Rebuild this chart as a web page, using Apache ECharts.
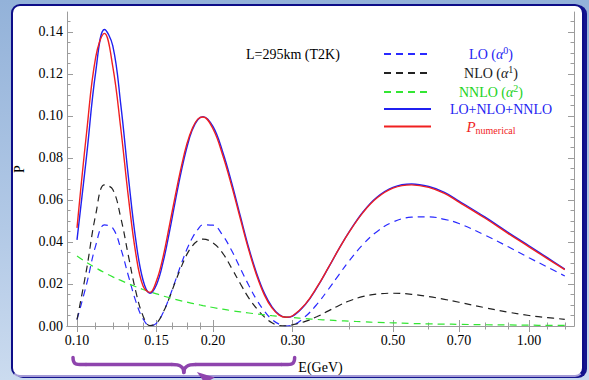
<!DOCTYPE html>
<html>
<head>
<meta charset="utf-8">
<title>P vs E (T2K)</title>
<script src="https://cdn.jsdelivr.net/npm/echarts@6/dist/echarts.min.js"></script>
<style>
html, body { margin: 0; padding: 0; }
body {
  width: 589px; height: 380px; overflow: hidden; position: relative;
  background: linear-gradient(180deg, #93b2d9 0%, #b2c9e6 60%, #cbdbef 100%);
}
.panel {
  position: absolute; left: 11px; top: 4px; width: 569px; height: 369px;
  background: #fff; border: 2.5px solid #0d0d88; border-bottom: 2px solid #a49ad6;
  border-radius: 9px; box-shadow: 3px 1px 0 #14148e;
}
#chart { position: absolute; left: 0; top: 0; width: 589px; height: 380px; }
</style>
</head>
<body>
<div class="panel"></div>
<div id="chart"></div>
<script>
const energy = [0.100, 0.105, 0.110, 0.115, 0.120, 0.125, 0.130, 0.135, 0.140, 0.145,
  0.150, 0.155, 0.160, 0.165, 0.170, 0.175, 0.180, 0.185, 0.190, 0.200,
  0.21, 0.22, 0.23, 0.24, 0.25, 0.26, 0.27, 0.28, 0.29, 0.30,
  0.32, 0.34, 0.36, 0.38, 0.40, 0.43, 0.46, 0.50, 0.55, 0.60,
  0.65, 0.70, 0.80, 0.90, 1.00, 1.10, 1.20];

const pLO = [0.0031, 0.0199, 0.0383, 0.0481, 0.0466, 0.0368, 0.0237, 0.0116, 0.0034, 0.0001,
  0.0014, 0.0063, 0.0135, 0.0215, 0.0294, 0.0365, 0.0420, 0.0459, 0.0482, 0.0480,
  0.0432, 0.0358, 0.0273, 0.0193, 0.0123, 0.0070, 0.0031, 0.0009, 0.0000, 0.0004,
  0.0045, 0.0105, 0.0175, 0.0245, 0.0310, 0.0390, 0.0448, 0.0495, 0.0518, 0.0520,
  0.0508, 0.0488, 0.0432, 0.0377, 0.0325, 0.0280, 0.0238];

const pNLO = [0.0030, 0.0270, 0.0530, 0.0672, 0.0650, 0.0515, 0.0332, 0.0162, 0.0048, 0.0002,
  0.0014, 0.0064, 0.0133, 0.0210, 0.0280, 0.0341, 0.0382, 0.0406, 0.0414, 0.0395,
  0.0347, 0.0274, 0.0200, 0.0133, 0.0082, 0.0042, 0.0015, 0.0002, 0.0001, 0.0006,
  0.0022, 0.0045, 0.0072, 0.0098, 0.0119, 0.0141, 0.0152, 0.0156, 0.0151, 0.0140,
  0.0127, 0.0113, 0.0087, 0.0066, 0.0050, 0.0040, 0.0032];

const pNNLO = [0.0333, 0.0303, 0.0277, 0.0254, 0.0234, 0.0217, 0.0201, 0.0187, 0.0174, 0.0163,
  0.0153, 0.0143, 0.0135, 0.0127, 0.0120, 0.0114, 0.0108, 0.0103, 0.0097, 0.0088,
  0.0080, 0.0073, 0.0067, 0.0062, 0.0057, 0.0053, 0.0049, 0.0046, 0.0043, 0.0040,
  0.0035, 0.0031, 0.0028, 0.0025, 0.0023, 0.0020, 0.0017, 0.0015, 0.0012, 0.0010,
  0.0009, 0.0008, 0.0006, 0.0005, 0.0004, 0.0003, 0.0003];

const pSum = [0.0410, 0.0810, 0.1210, 0.1412, 0.1334, 0.1053, 0.0704, 0.0405, 0.0218, 0.0156,
  0.0198, 0.0303, 0.0444, 0.0595, 0.0734, 0.0850, 0.0935, 0.0982, 0.0997, 0.0949,
  0.0830, 0.0680, 0.0520, 0.0370, 0.0248, 0.0154, 0.0091, 0.0054, 0.0041, 0.0047,
  0.0102, 0.0185, 0.0278, 0.0368, 0.0448, 0.0545, 0.0612, 0.0660, 0.0676, 0.0664,
  0.0636, 0.0595, 0.0518, 0.0445, 0.0382, 0.0324, 0.0271];

const pNum = [0.0467, 0.0920, 0.1280, 0.1393, 0.1235, 0.0939, 0.0609, 0.0341, 0.0190, 0.0160,
  0.0217, 0.0328, 0.0474, 0.0621, 0.0755, 0.0867, 0.0941, 0.0985, 0.0995, 0.0938,
  0.0814, 0.0665, 0.0508, 0.0360, 0.0238, 0.0146, 0.0086, 0.0052, 0.0042, 0.0049,
  0.0104, 0.0187, 0.0279, 0.0368, 0.0447, 0.0542, 0.0608, 0.0656, 0.0672, 0.0660,
  0.0631, 0.0590, 0.0513, 0.0440, 0.0377, 0.0320, 0.0268];

const xMajorTicks = [0.1, 0.15, 0.2, 0.3, 0.5, 0.7, 1.0];
const xMinorTicks = [0.11, 0.12, 0.13, 0.14, 0.1625, 0.175, 0.1875, 0.4, 0.6, 0.8, 0.9, 1.1, 1.2];
const yMajorTicks = [0, 0.02, 0.04, 0.06, 0.08, 0.10, 0.12, 0.14];
const yMinorTicks = [0.005, 0.01, 0.015, 0.025, 0.03, 0.035, 0.045, 0.05, 0.055,
  0.065, 0.07, 0.075, 0.085, 0.09, 0.095, 0.105, 0.11, 0.115, 0.125, 0.13, 0.135, 0.145];

const serif = 'Liberation Serif';
const frame = '#9c9c9c';
const braceColor = '#8e44ad';
const gridBox = { left: 67, right: 15, top: 12, bottom: 54 };

const pairs = arr => energy.map((e, i) => [e, arr[i]]);

function xAxisOf(grid, pos, ticks, len, main) {
  return {
    type: 'log', logBase: 10, gridIndex: grid, position: pos,
    min: 0.09503, max: 1.2577,
    axisLine: { show: main, lineStyle: { color: frame, width: 1 } },
    splitLine: { show: false },
    axisTick: { show: true, inside: true, length: len, customValues: ticks, lineStyle: { color: frame } },
    axisLabel: {
      show: main && pos === 'bottom', customValues: ticks, margin: 7,
      fontFamily: serif, fontSize: 14, color: '#000',
      formatter: v => v.toFixed(2)
    }
  };
}
function yAxisOf(grid, pos, ticks, len, main) {
  return {
    type: 'value', gridIndex: grid, position: pos,
    min: 0, max: 0.1495,
    axisLine: { show: main, lineStyle: { color: frame, width: 1 } },
    splitLine: { show: false },
    axisTick: { show: true, inside: true, length: len, customValues: ticks, lineStyle: { color: frame } },
    axisLabel: {
      show: main && pos === 'left', customValues: ticks, margin: 4,
      fontFamily: serif, fontSize: 14, color: '#000',
      formatter: v => v.toFixed(2)
    }
  };
}

const xAxes = [
  xAxisOf(0, 'bottom', xMajorTicks, 6, true),
  xAxisOf(0, 'top', xMajorTicks, 6, true),
  xAxisOf(1, 'bottom', xMinorTicks, 3.5, false),
  xAxisOf(1, 'top', xMinorTicks, 3.5, false)
];
Object.assign(xAxes[0], {
  name: 'E(GeV)', nameLocation: 'middle', nameGap: 34,
  nameTextStyle: { fontFamily: serif, fontSize: 14, color: '#000' }
});
const yAxes = [
  yAxisOf(0, 'left', yMajorTicks, 6, true),
  yAxisOf(0, 'right', yMajorTicks, 6, true),
  yAxisOf(1, 'left', yMinorTicks, 3.5, false),
  yAxisOf(1, 'right', yMinorTicks, 3.5, false)
];
Object.assign(yAxes[0], {
  name: 'P', nameLocation: 'middle', nameGap: 41, nameRotate: 90,
  nameTextStyle: { fontFamily: serif, fontSize: 14, color: '#000' }
});

function curve(name, arr, color, dashed, width) {
  return {
    name: name, type: 'line', xAxisIndex: 0, yAxisIndex: 0,
    data: pairs(arr), symbol: 'none', showSymbol: false, smooth: 0.4,
    lineStyle: { color: color, width: width, type: dashed ? [7, 5] : 'solid' },
    itemStyle: { color: color }
  };
}

const legendText = {
  'LO': '{t|LO (}{i|α}{s|0}{t|)}',
  'NLO': '{t|NLO (}{i|α}{s|1}{t|)}',
  'NNLO': '{t|NNLO (}{i|α}{s|2}{t|)}',
  'LO+NLO+NNLO': '{t|LO+NLO+NNLO}',
  'Pnum': '{p|P}{b|numerical}'
};

const chart = echarts.init(document.getElementById('chart'), null, { renderer: 'svg' });
chart.setOption({
  backgroundColor: 'transparent',
  animation: false,
  title: {
    text: 'L=295km (T2K)', left: 246, top: 47, padding: 0,
    textStyle: { fontFamily: serif, fontSize: 14, fontWeight: 'normal', color: '#000' }
  },
  legend: {
    orient: 'vertical', left: 383, top: 45, padding: 0,
    itemWidth: 47, itemHeight: 14, itemGap: 3, selectedMode: false,
    itemStyle: { opacity: 0 },
    formatter: name => legendText[name],
    textStyle: {
      fontFamily: serif, fontSize: 14, width: 110,
      rich: {
        t: { fontFamily: serif, fontSize: 14, lineHeight: 18, align: 'center' },
        i: { fontFamily: serif, fontSize: 14, lineHeight: 18, fontStyle: 'italic', align: 'center' },
        s: { fontFamily: serif, fontSize: 10, lineHeight: 10, verticalAlign: 'top', align: 'center' },
        p: { fontFamily: serif, fontSize: 15, lineHeight: 18, fontStyle: 'italic', align: 'center' },
        b: { fontFamily: serif, fontSize: 10, lineHeight: 10, verticalAlign: 'bottom', align: 'center' }
      }
    },
    data: [
      { name: 'LO', textStyle: { color: '#2424f2' } },
      { name: 'NLO', textStyle: { color: '#1a1a1a' } },
      { name: 'NNLO', textStyle: { color: '#22d222' } },
      { name: 'LO+NLO+NNLO', textStyle: { color: '#2424f2', width: 130 } },
      { name: 'Pnum', textStyle: { color: '#f02424' } }
    ]
  },
  grid: [Object.assign({}, gridBox), Object.assign({}, gridBox)],
  xAxis: xAxes,
  yAxis: yAxes,
  series: [
    curve('LO', pLO, '#2a2aff', true, 1.2),
    curve('NLO', pNLO, '#222222', true, 1.2),
    curve('NNLO', pNNLO, '#33e633', true, 1.2),
    curve('LO+NLO+NNLO', pSum, '#2020f0', false, 1.4),
    curve('Pnum', pNum, '#f02020', false, 1.4)
  ]
});

// brace under the 0.10 - 0.30 range, placed through the x axis
const bx0 = chart.convertToPixel({ xAxisIndex: 0 }, 0.1) - 4;
const bx1 = chart.convertToPixel({ xAxisIndex: 0 }, 0.3) + 2;
const bm = (bx0 + bx1) / 2;
const yTop = 357.5, yMid = 364.5, yTip = 372.5;
const braceStyle = { fill: null, stroke: braceColor, lineWidth: 3.5, lineCap: 'round' };

function bez(x1, y1, c1x, c1y, c2x, c2y, x2, y2) {
  return {
    type: 'bezierCurve', z: 100, silent: true,
    shape: { x1: x1, y1: y1, cpx1: c1x, cpy1: c1y, cpx2: c2x, cpy2: c2y, x2: x2, y2: y2 },
    style: braceStyle
  };
}
function seg(x1, y1, x2, y2) {
  return {
    type: 'line', z: 100, silent: true,
    shape: { x1: x1, y1: y1, x2: x2, y2: y2 },
    style: braceStyle
  };
}

chart.setOption({
  graphic: [
    bez(bx0, yTop, bx0, yMid + 1, bx0 + 4, yMid, bx0 + 13, yMid),
    seg(bx0 + 13, yMid, bm - 12, yMid),
    bez(bm - 12, yMid, bm - 4, yMid, bm, yMid + 2, bm, yTip),
    bez(bm, yTip, bm, yMid + 2, bm + 4, yMid, bm + 12, yMid),
    seg(bm + 12, yMid, bx1 - 13, yMid),
    bez(bx1 - 13, yMid, bx1 - 4, yMid, bx1, yMid + 1, bx1, yTop),
    {
      type: 'polygon', z: 100, silent: true,
      shape: { points: [[bm + 13, 372], [bm + 31, 377.5], [bm + 21, 383]] },
      style: { fill: braceColor }
    }
  ]
});
</script>
</body>
</html>
